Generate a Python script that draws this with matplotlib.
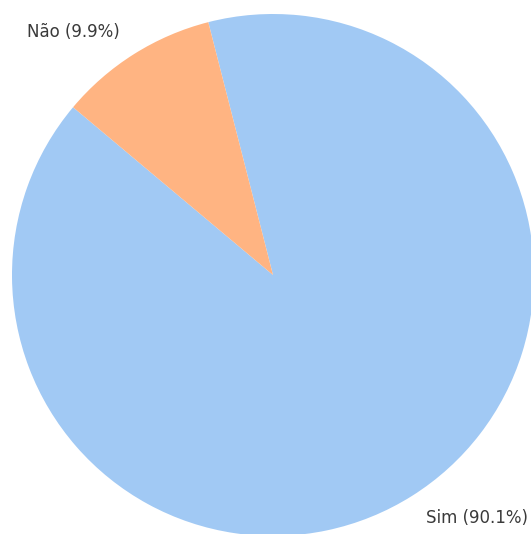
import matplotlib
matplotlib.use("Agg")
import matplotlib.pyplot as plt

plt.rcParams.update({
    "font.family": "DejaVu Sans",
    "font.size": 12,
})

labels = ["Sim", "Não"]
percents = [90.1, 9.9]
colors = ["#a1c9f4", "#ffb482"]

W, H = 531, 534
R = 261.0  # pie radius in px
cx, cy = 273, 275  # centre from top-left

fig = plt.figure(figsize=(W / 100, H / 100), dpi=100)
ax = fig.add_axes([0, 0, 1, 1])

ax.pie(
    percents,
    labels=[f"{l} ({p}%)" for l, p in zip(labels, percents)],
    colors=colors,
    startangle=140,
    textprops={"color": "#3a3a3a"},
)
ax.set_aspect("equal")
ax.set_xlim(-cx / R, (W - cx) / R)
ax.set_ylim(-(H - cy) / R, cy / R)

fig.savefig("out.png", dpi=100)
